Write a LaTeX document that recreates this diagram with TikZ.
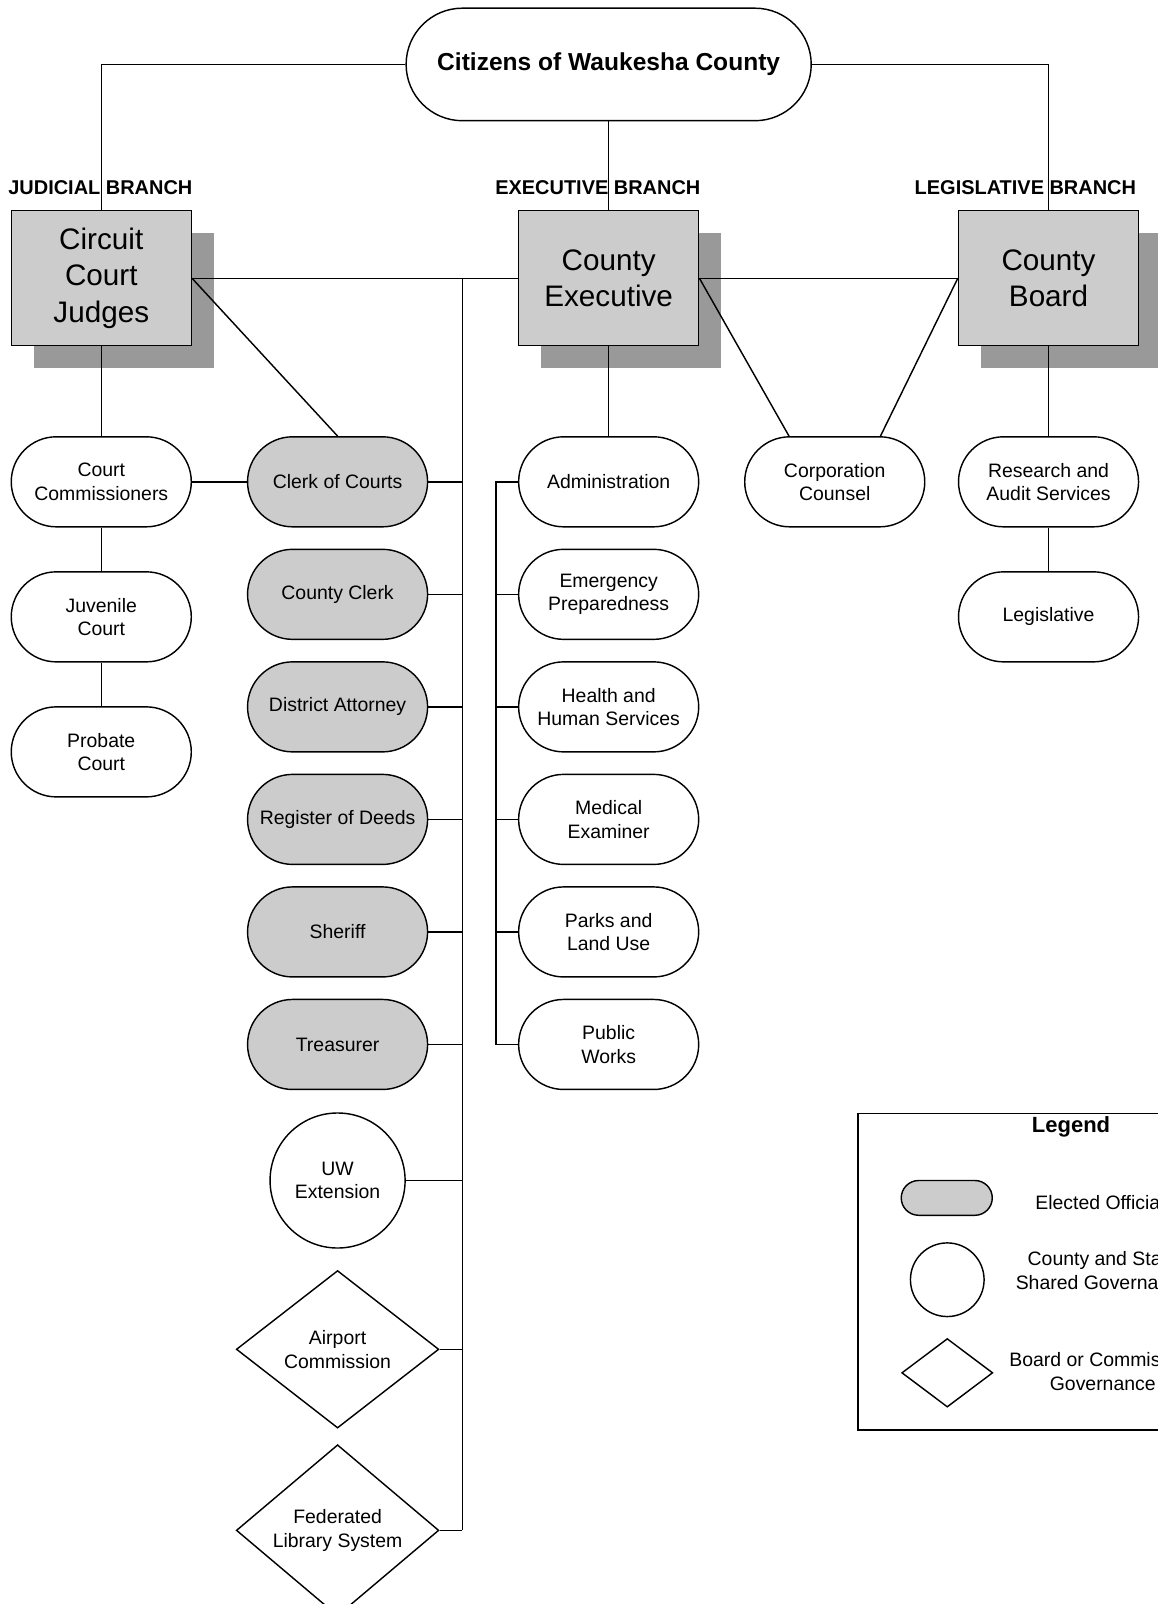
\documentclass[tikz,border=0pt]{standalone}
\usepackage{fontspec}
\setmainfont{Liberation Sans}
\usetikzlibrary{shapes.geometric,shadows}
\definecolor{boxgray}{HTML}{CCCCCC}
\definecolor{shadowgray}{HTML}{999999}
\tikzset{
  conn/.style={line width=1.4pt},
  pill/.style={draw, line width=1.4pt, rectangle, rounded corners=44pt,
    minimum width=176pt, minimum height=88pt, inner sep=0pt, align=center,
    font=\fontsize{19}{23}\selectfont},
  elected/.style={pill, fill=boxgray},
  branchbox/.style={draw, line width=1.4pt, fill=boxgray, rectangle,
    minimum width=176pt, minimum height=132pt, inner sep=0pt, align=center,
    font=\fontsize{29}{35.5}\selectfont,
    drop shadow={shadow xshift=22pt, shadow yshift=-22pt, fill=shadowgray, opacity=1, draw=none}},
  branchlabel/.style={anchor=base west, inner sep=0pt, font=\bfseries\fontsize{19.5}{23}\selectfont},
  circnode/.style={draw, line width=1.4pt, circle, minimum size=132pt, inner sep=0pt, align=center,
    font=\fontsize{19}{23}\selectfont},
  diamnode/.style={draw, line width=1.4pt, diamond, minimum width=198pt, minimum height=154pt,
    inner sep=0pt, align=center, font=\fontsize{19}{23}\selectfont},
  legtext/.style={align=center, inner sep=0pt, font=\fontsize{19}{23}\selectfont},
}
\begin{document}
\begin{tikzpicture}[x=1pt,y=-1pt]
\useasboundingbox (0,0) rectangle (1132,1568);
\clip (0,0) rectangle (1132,1568);

% top node
\node[draw, line width=1.4pt, rectangle, rounded corners=55pt, minimum width=396pt,
  minimum height=110pt, inner sep=0pt, font=\bfseries\fontsize{24}{28}\selectfont]
  (cit) at (595,63) {Citizens of Waukesha County};

% branch labels
\node[branchlabel] (jbl) at (8,190) {JUDICIAL BRANCH};
\node[branchlabel] (ebl) at (484,190) {EXECUTIVE BRANCH};
\node[branchlabel] (lbl) at (894,190) {LEGISLATIVE BRANCH};

% branch boxes
\node[branchbox] (cj) at (99,272) {Circuit\\Court\\Judges};
\node[branchbox] (ce) at (595,272) {County\\Executive};
\node[branchbox] (cb) at (1025,272) {County\\Board};

% judicial column
\node[pill] (cc) at (99,471) {Court\\Commissioners};
\node[pill] (jc) at (99,603) {Juvenile\\Court};
\node[pill] (pc) at (99,735) {Probate\\Court};

% elected officials column
\node[elected] (clk) at (330,471) {Clerk of Courts};
\node[elected] (cty) at (330,581) {County Clerk};
\node[elected] (da)  at (330,691) {District Attorney};
\node[elected] (rod) at (330,801) {Register of Deeds};
\node[elected] (sh)  at (330,911) {Sheriff};
\node[elected] (tr)  at (330,1021) {Treasurer};
\node[circnode] (uw) at (330,1154) {UW\\Extension};
\node[diamnode] (ac) at (330,1319) {Airport\\Commission};
\node[diamnode] (fls) at (330,1496) {Federated\\Library System};

% executive column
\node[pill] (adm) at (595,471) {Administration};
\node[pill] (ep)  at (595,581) {Emergency\\Preparedness};
\node[pill] (hhs) at (595,691) {Health and\\Human Services};
\node[pill] (me)  at (595,801) {Medical\\Examiner};
\node[pill] (plu) at (595,911) {Parks and\\Land Use};
\node[pill] (pw)  at (595,1021) {Public\\Works};

% corporation counsel and legislative column
\node[pill] (corp) at (816,471) {Corporation\\Counsel};
\node[pill] (ras) at (1025,471) {Research and\\Audit Services};
\node[pill] (leg) at (1025,603) {Legislative};

% connectors from citizens
\draw[conn] (cit.west) -| (cj.north);
\draw[conn] (cit.east) -| (cb.north);
\draw[conn] (cit.south) -- (ce.north);

% branch interconnections
\draw[conn] (cj.east) -- (ce.west);
\draw[conn] (ce.east) -- (cb.west);
\draw[conn] (cj.east) -- (clk.north);
\draw[conn] (ce.east) -- ([xshift=44pt]corp.north west);
\draw[conn] (cb.west) -- ([xshift=-44pt]corp.north east);

% judicial chain
\draw[conn] (cj.south) -- (cc.north);
\draw[conn] (cc.south) -- (jc.north);
\draw[conn] (jc.south) -- (pc.north);
\draw[conn] (cc.east) -- (clk.west);

% bus for elected officials
\coordinate (bus) at (452,272);
\draw[conn] (bus) -- (bus |- fls.east);
\foreach \n in {clk,cty,da,rod,sh,tr,uw,ac,fls}
  \draw[conn] (\n.east) -- (\n.east -| bus);

% executive departments
\draw[conn] (ce.south) -- (adm.north);
\coordinate (ebus) at (485,471);
\draw[conn] (adm.west) -- (adm.west -| ebus) -- (pw.west -| ebus) -- (pw.west);
\foreach \n in {ep,hhs,me,plu}
  \draw[conn] (\n.west -| ebus) -- (\n.west);

% legislative
\draw[conn] (cb.south) -- (ras.north);
\draw[conn] (ras.south) -- (leg.north);

% legend
\node[draw, line width=1.4pt, rectangle, minimum width=340pt, minimum height=309pt,
  anchor=north west, inner sep=0pt] (legbox) at (838,1088) {};
\node[inner sep=0pt, font=\bfseries\fontsize{21.5}{26}\selectfont] (legt) at (1047,1102) {Legend};
\node[draw, line width=1.4pt, fill=boxgray, rectangle, rounded corners=17pt,
  minimum width=89pt, minimum height=34pt, inner sep=0pt] (lgpill) at (925.5,1171) {};
\node[legtext] (lgt1) at (1080,1176) {Elected Officials};
\node[draw, line width=1.4pt, circle, minimum size=72pt, inner sep=0pt] (lgcirc) at (926,1251) {};
\node[legtext] (lgt2) at (1078,1242) {County and State\\Shared Governance};
\node[draw, line width=1.4pt, diamond, minimum width=89pt, minimum height=67pt,
  inner sep=0pt] (lgdiam) at (926,1342) {};
\node[legtext] (lgt3) at (1078,1341) {Board or Commission\\Governance};
\end{tikzpicture}
\end{document}
